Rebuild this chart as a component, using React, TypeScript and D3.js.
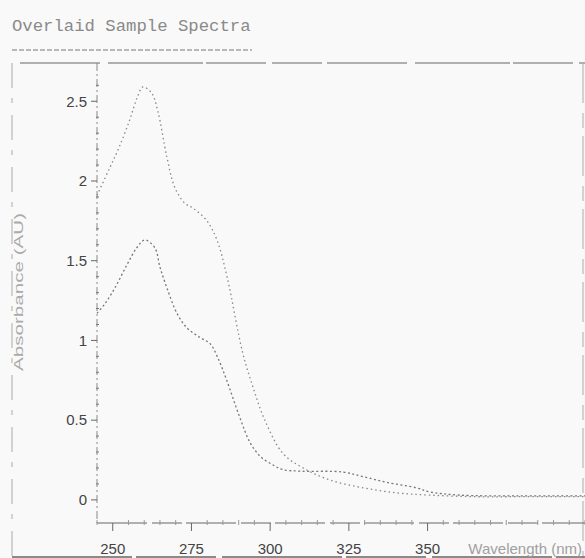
import React from "react";
import * as d3 from "d3";

const title = "Overlaid Sample Spectra";
const xLabel = "Wavelength (nm)";
const yLabel = "Absorbance (AU)";
const xTicks = [250, 275, 300, 325, 350];
const yTicks = [0, 0.5, 1, 1.5, 2, 2.5];
const yTickLabels = ["0", "0.5", "1", "1.5", "2", "2.5"];

const wavelengthsA = [245, 249, 252, 255.5, 257.7, 259.6, 262.4, 264.3, 267.2, 269.7, 272.9, 275.5, 279.9, 283.1, 286.3, 291.3, 294.5, 298.3, 304.1, 310.5, 318.9, 329.7, 340.2, 350.7, 365, 380, 400];
const absorbanceA = [1.91, 2.08, 2.21, 2.39, 2.52, 2.59, 2.55, 2.44, 2.15, 1.96, 1.86, 1.83, 1.75, 1.63, 1.4, 0.92, 0.71, 0.5, 0.29, 0.2, 0.125, 0.075, 0.044, 0.03, 0.02, 0.02, 0.02];

const wavelengthsB = [245, 247.5, 250.7, 254.4, 257.6, 260.2, 263.4, 265, 267.2, 270.4, 273.5, 277.6, 280.9, 283.4, 286.2, 290.3, 293.6, 297, 300.8, 304, 310, 323, 329.7, 337, 346.6, 350.7, 360, 380, 400];
const absorbanceB = [1.17, 1.23, 1.33, 1.47, 1.58, 1.63, 1.58, 1.46, 1.33, 1.17, 1.08, 1.02, 0.98, 0.89, 0.75, 0.52, 0.36, 0.27, 0.22, 0.19, 0.18, 0.175, 0.145, 0.11, 0.075, 0.05, 0.03, 0.025, 0.025];

const W = 585;
const H = 558;

export default function App() {
  const x = d3.scaleLinear().domain([245, 400]).range([97, 585]);
  const y = d3.scaleLinear().domain([-0.145, 2.74]).range([523, 63]);

  const line = d3
    .line<[number, number]>()
    .x((d) => x(d[0]))
    .y((d) => y(d[1]))
    .curve(d3.curveCatmullRom.alpha(0.5));

  const dataA: [number, number][] = wavelengthsA.map((w, i) => [w, absorbanceA[i]]);
  const dataB: [number, number][] = wavelengthsB.map((w, i) => [w, absorbanceB[i]]);

  const minorX = d3.range(245, 401, 5).filter((v) => !xTicks.includes(v));
  const minorY = d3.range(0, 27).map((v) => v / 10).filter((v) => Math.abs(v * 2 - Math.round(v * 2)) > 1e-6);

  const tickFont = "'Liberation Sans Narrow', 'Liberation Sans', Arial, sans-serif";

  return (
    <svg
      width={W}
      height={H}
      style={{ position: "absolute", left: 0, top: 0, background: "#f9f9f9" }}
    >
      <rect x={0} y={0} width={W} height={H} fill="#f9f9f9" />
      {/* title */}
      <text x={12} y={31} fontFamily="'Liberation Mono', 'DejaVu Sans Mono', monospace" fontSize={17.3} fill="#8a8a8a">
        {title}
      </text>
      <line x1={12} x2={252} y1={50} y2={50} stroke="#777" strokeWidth={1} strokeDasharray="5 2" />

      {/* outer frame */}
      <line x1={20} x2={585} y1={63} y2={63} stroke="#666" strokeWidth={1.2} strokeDasharray="80 8 95 3 60 6 50 5" />
      <line x1={12} x2={12} y1={63} y2={558} stroke="#aaa" strokeWidth={1} strokeDasharray="25 10 5 12" />
      <line x1={583} x2={583} y1={63} y2={558} stroke="#aaa" strokeWidth={1} strokeDasharray="40 10 15 8" />
      <line x1={12} x2={585} y1={557} y2={557} stroke="#666" strokeWidth={1.5} strokeDasharray="120 4 80 6" />

      {/* y axis */}
      <line x1={97} x2={97} y1={63} y2={523} stroke="#888" strokeWidth={1} strokeDasharray="8 3 2 3" />
      {yTicks.map((t, i) => (
        <g key={"yt" + t}>
          <line x1={91} x2={97} y1={y(t)} y2={y(t)} stroke="#666" strokeWidth={1} />
          <text
            x={87}
            y={y(t)}
            dy="0.35em"
            textAnchor="end"
            fontFamily={tickFont}
            fontSize={15}
            fill="#444"
          >
            {yTickLabels[i]}
          </text>
        </g>
      ))}
      {minorY.map((t) => (
        <line key={"ym" + t} x1={96} x2={99} y1={y(t)} y2={y(t)} stroke="#777" strokeWidth={1} />
      ))}

      {/* x axis */}
      <line x1={97} x2={585} y1={523} y2={523} stroke="#666" strokeWidth={1} strokeDasharray="50 5 30 4" />
      {xTicks.map((t) => (
        <g key={"xt" + t}>
          <line x1={x(t)} x2={x(t)} y1={523} y2={531} stroke="#666" strokeWidth={1} />
          <text
            x={x(t)}
            y={554}
            textAnchor="middle"
            fontFamily={tickFont}
            fontSize={15}
            fill="#444"
          >
            {t}
          </text>
        </g>
      ))}
      {minorX.map((t) => (
        <line key={"xm" + t} x1={x(t)} x2={x(t)} y1={520} y2={525} stroke="#999" strokeWidth={1} />
      ))}

      {/* axis labels */}
      <text
        transform={`translate(23, 292) rotate(-90)`}
        textAnchor="middle"
        fontFamily="'Liberation Sans', Arial, sans-serif"
        fontSize={12}
        textLength={158}
        lengthAdjust="spacingAndGlyphs"
        fill="#aaaaaa"
      >
        {yLabel}
      </text>
      <text
        x={582}
        y={554}
        textAnchor="end"
        fontFamily={tickFont}
        fontSize={15}
        fill="#a0a0a0"
      >
        {xLabel}
      </text>

      {/* spectra */}
      <path d={line(dataA) || ""} fill="none" stroke="#888" strokeWidth={1.3} strokeDasharray="1.5 3" />
      <path d={line(dataB) || ""} fill="none" stroke="#777" strokeWidth={1.3} strokeDasharray="2 2.5" />
    </svg>
  );
}
